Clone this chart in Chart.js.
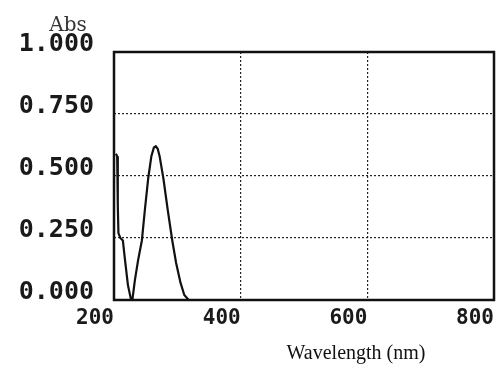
<!DOCTYPE html>
<html lang="en">
<head>
    <meta charset="UTF-8">
    <title>Absorbance spectrum</title>
    <script src="https://cdn.jsdelivr.net/npm/chart.js"></script>
    <style>
        html, body { margin: 0; padding: 0; background: #fff; }
        #wrap { width: 496px; height: 367px; }
    </style>
</head>
<body>
    <div id="wrap"><canvas id="chartSpectrum"></canvas></div>

    <script>
        // spectrum
        const wavelengths = [203, 205, 206, 207, 210, 214, 217, 222, 227, 229, 233, 238, 244, 249, 254, 259, 263, 266, 269, 272, 278, 285, 292, 298, 305, 311, 318, 800];
        const absorbance = [0.59, 0.58, 0.38, 0.27, 0.25, 0.24, 0.17, 0.06, 0.0, 0.0, 0.08, 0.16, 0.24, 0.37, 0.49, 0.58, 0.615, 0.62, 0.61, 0.58, 0.49, 0.36, 0.24, 0.15, 0.07, 0.02, 0.0, 0.0];
        const xTicks = [200, 400, 600, 800];
        const yTicks = [0, 0.25, 0.5, 0.75, 1];
        const xTitle = 'Wavelength (nm)';
        const yTitle = 'Abs';

        const points = wavelengths.map((w, i) => ({ x: w, y: absorbance[i] }));

        // box around the plot + axis captions
        const frame = {
            id: 'frame',
            afterDraw(chart) {
                const { ctx, chartArea: a } = chart;
                ctx.save();
                ctx.strokeStyle = '#111';
                ctx.lineWidth = 2.5;
                ctx.strokeRect(a.left, a.top, a.right - a.left, a.bottom - a.top);
                ctx.fillStyle = '#333';
                ctx.textAlign = 'center';
                ctx.textBaseline = 'alphabetic';
                ctx.font = '20px "DejaVu Serif"';
                ctx.fillText(yTitle, 68, 31);
                ctx.fillStyle = '#111';
                ctx.font = '20px "Liberation Serif"';
                ctx.fillText(xTitle, 356, 359);
                ctx.restore();
            }
        };

        new Chart(document.getElementById('chartSpectrum'), {
            type: 'line',
            data: {
                datasets: [{
                    data: points,
                    borderColor: '#111',
                    borderWidth: 2.2,
                    pointRadius: 0,
                    tension: 0,
                    fill: false
                }]
            },
            options: {
                responsive: true,
                maintainAspectRatio: false,
                animation: false,
                layout: { padding: { top: 52, right: 2, left: 0, bottom: 0 } },
                plugins: { legend: { display: false }, tooltip: { enabled: false } },
                scales: {
                    x: {
                        type: 'linear',
                        min: 200,
                        max: 800,
                        afterBuildTicks: s => { s.ticks = xTicks.map(v => ({ value: v })); },
                        afterFit: s => { s.height = 67; s.paddingLeft = 0; s.paddingRight = 0; },
                        grid: { color: '#222', lineWidth: 1.2, drawTicks: false },
                        border: { display: false, dash: [2, 2] },
                        ticks: {
                            align: 'end',
                            padding: 6,
                            color: '#1a1a1a',
                            font: { family: 'DejaVu Sans Mono', size: 21, weight: 'bold' },
                            maxRotation: 0
                        }
                    },
                    y: {
                        min: 0,
                        max: 1,
                        afterBuildTicks: s => { s.ticks = yTicks.map(v => ({ value: v })); },
                        afterFit: s => { s.width = 114; s.paddingTop = 0; s.paddingBottom = 0; },
                        grid: { color: '#222', lineWidth: 1.2, drawTicks: false },
                        border: { display: false, dash: [2, 2] },
                        ticks: {
                            padding: 20,
                            labelOffset: -8,
                            color: '#1a1a1a',
                            font: { family: 'DejaVu Sans Mono', size: 25, weight: 'bold' },
                            callback: v => v.toFixed(3)
                        }
                    }
                }
            },
            plugins: [frame]
        });
    </script>
</body>
</html>
